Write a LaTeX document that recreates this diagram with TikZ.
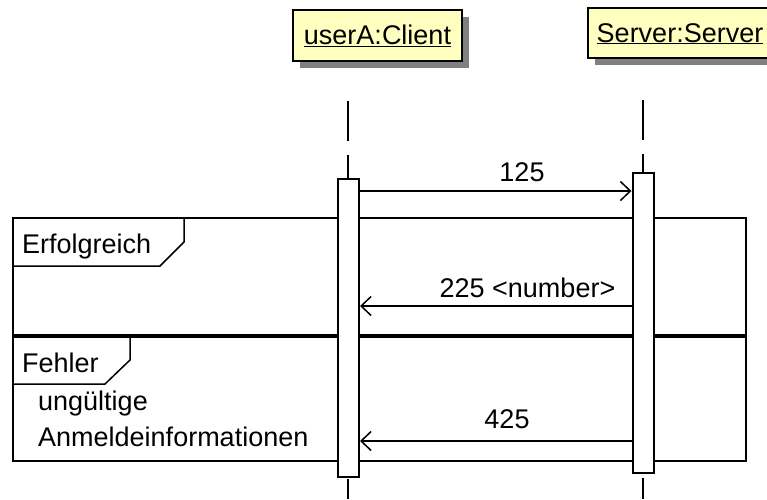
\documentclass[tikz,border=0pt]{standalone}
\usepackage{fontspec}
\setmainfont{Liberation Sans}
\usetikzlibrary{arrows.meta,shadows}

\definecolor{headfill}{HTML}{FFFFC0}

\tikzset{
    big/.style={font=\fontsize{27}{32}\selectfont},
    head/.style={draw, line width=2pt, fill=headfill, inner sep=0pt, big,
            text height=22pt, text depth=4pt,
            drop shadow={shadow xshift=7pt, shadow yshift=-7pt, fill=black!50, opacity=1}},
    actbar/.style={draw, line width=2pt, fill=white, minimum width=21pt, inner sep=0pt},
    lifeline/.style={line width=2pt, dash pattern=on 40pt off 14pt},
    msg/.style={line width=1.5pt, -{Straight Barb[length=10pt,width=19pt]}},
    txt/.style={big, inner sep=0pt},
    frameline/.style={line width=1.5pt}
}

\begin{document}
\begin{tikzpicture}[x=1pt, y=-1pt]
        \clip (0,0) rectangle (767,499);

        \node[head, minimum width=169pt, minimum height=51pt] (client) at (377.5,35.5) {\underline{userA:Client}};
        \node[head, minimum width=184pt, minimum height=50pt] (server) at (680,33) {\underline{Server:Server}};

        \draw[lifeline] (348,101) -- (348,499);
        \draw[lifeline] (643,100) -- (643,499);

        \draw[frameline] (13,218) rectangle (746,461);
        \draw[line width=3.5pt] (13,336) -- (746,336);
        \draw[frameline] (13,266) -- (160,266) -- (184,242) -- (184,218);
        \draw[frameline] (13,384) -- (105,384) -- (130,360) -- (130,338);

        \node[txt, anchor=base west] (ok) at (22,253) {Erfolgreich};
        \node[txt, anchor=base west] (err) at (22,372) {Fehler};
        \node[txt, anchor=base west] (guardA) at (38,410) {ungültige};
        \node[txt, anchor=base west] (guardB) at (38,446) {Anmeldeinformationen};

        \node[actbar, minimum height=298pt] (clientbar) at (348.5,328) {};
        \node[actbar, minimum height=300pt] (serverbar) at (643,323) {};

        \coordinate (m125) at (0,191);
        \coordinate (m225) at (0,306);
        \coordinate (m425) at (0,441);

        \draw[msg] (clientbar.east |- m125) -- (serverbar.west |- m125);
        \draw[msg] (serverbar.west |- m225) -- (clientbar.east |- m225);
        \draw[msg] (serverbar.west |- m425) -- (clientbar.east |- m425);

        \node[txt, anchor=base] (t125) at (522,181) {125};
        \node[txt, anchor=base] (t225) at (527.5,297) {225 <number>};
        \node[txt, anchor=base] (t425) at (507,428) {425};
    \end{tikzpicture}
\end{document}
